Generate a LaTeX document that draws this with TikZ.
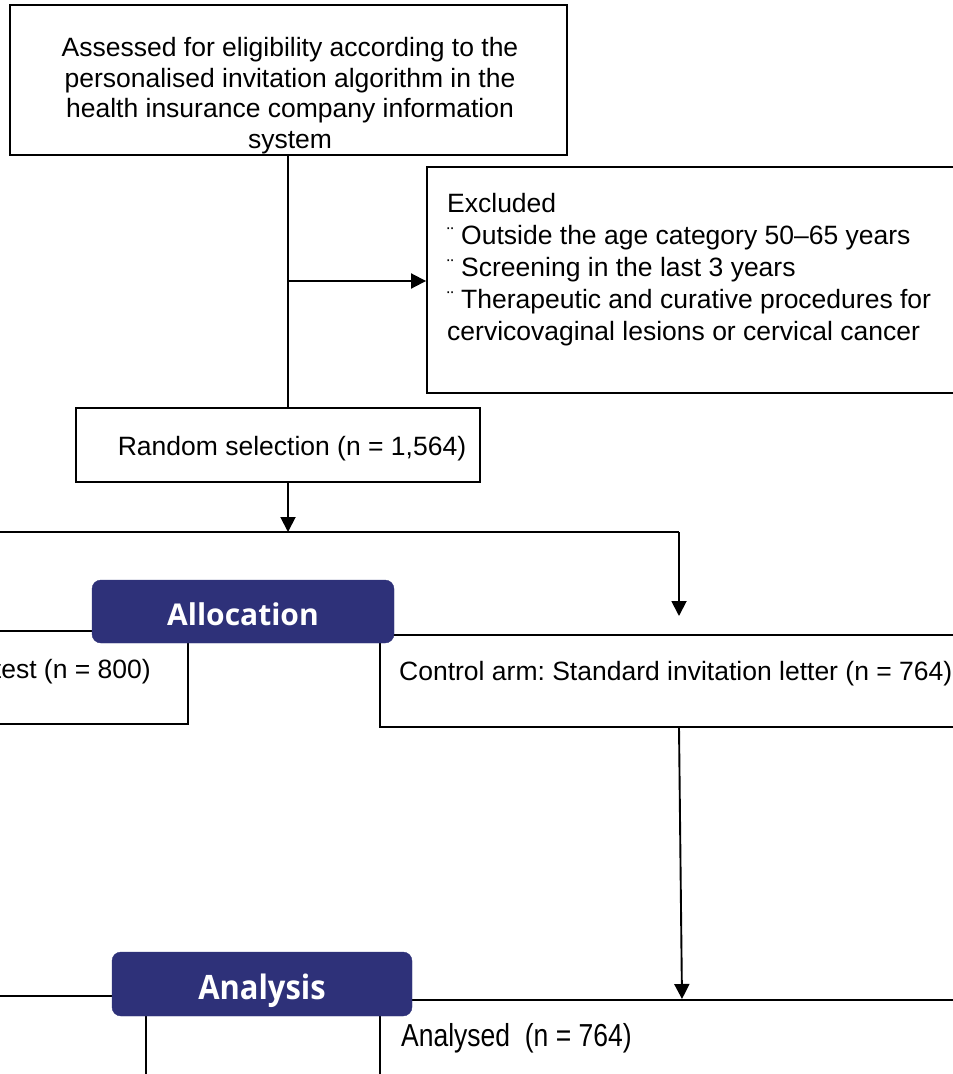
\documentclass[tikz,border=0pt]{standalone}
\usepackage{fontspec}
\setmainfont{Liberation Sans}
\newfontfamily\badgefont{Open Sans}
\usetikzlibrary{arrows.meta}
\definecolor{badgeblue}{RGB}{46,49,121}
\frenchspacing
\tikzset{
  box/.style={draw=black, line width=1.9pt, rectangle, inner sep=0pt},
  txt/.style={inner sep=0pt, font=\fontsize{26.5}{30.5}\selectfont},
  badge/.style={fill=badgeblue, draw=badgeblue, rounded corners=9pt, inner sep=0pt},
  badgetxt/.style={inner sep=0pt, text=white, font=\badgefont\bfseries\fontsize{30}{32}\selectfont},
  conn/.style={line width=1.9pt},
  arr/.style={conn, -{Triangle[length=15pt,width=15pt]}},
}
\newcommand{\bul}{{\fontsize{20}{20}\selectfont\raisebox{3pt}{¨}}\ }
\begin{document}
\begin{tikzpicture}[x=1pt,y=-1pt]
\useasboundingbox (0,0) rectangle (953,1074);
\clip (0,0) rectangle (953,1074);
\fill[white] (0,0) rectangle (953,1074);
% top box
\node[box, minimum width=557pt, minimum height=150pt] (assess) at (288.5,80) {};
\node[txt, align=center] (assesst) at (290,95.5) {Assessed for eligibility according to the\\personalised invitation algorithm in the\\health insurance company information\\system};
% excluded
\node[box, minimum width=540pt, minimum height=226pt] (excl) at (697,280) {};
\node[txt, align=left, anchor=west, font=\fontsize{26.5}{32}\selectfont] (exclt) at (447,270) {Excluded\\\bul Outside the age category 50--65 years\\\bul Screening in the last 3 years\\\bul Therapeutic and curative procedures for\\cervicovaginal lesions or cervical cancer};
% random selection
\node[box, minimum width=404pt, minimum height=74pt] (rand) at (278,445) {};
\node[txt] (randt) at (292,449) {Random selection (n = 1,564)};
% arms
\node[box, minimum width=210pt, minimum height=93pt] (interv) at (83,677.5) {};
\node[txt, anchor=east] (intervt) at (151,672) {test (n = 800)};
\node[box, minimum width=590pt, minimum height=92pt] (ctrl) at (675,681) {};
\node[txt, anchor=west] (ctrlt) at (399,674) {Control arm: Standard invitation letter (n = 764)};
\node[badge, minimum width=302pt, minimum height=63pt] (alloc) at (243,611.5) {};
\node[badgetxt] (alloct) at (243,614) {Allocation};
% analysis
\node[box, minimum width=166pt, minimum height=100pt] (anleft) at (63,1046) {};
\node[box, minimum width=590pt, minimum height=100pt] (anright) at (675,1050) {};
\node[txt, anchor=west] (anrt) at (401,1038) {\scalebox{1.0}[1.2]{Analysed\ \ (n = 764)}};
\node[badge, minimum width=300pt, minimum height=64pt] (analysis) at (262,984) {};
\node[badgetxt] (analysist) at (262,991) {\scalebox{1.03}[1.12]{Analysis}};
% connectors
\coordinate (c1) at (288,155);
\coordinate (c2) at (288,408);
\coordinate (c3) at (288,281);
\coordinate (c4) at (288,482);
\coordinate (split) at (288,532);
\coordinate (left) at (-10,532);
\coordinate (c5) at (679,532);
\coordinate (c6) at (679,616);
\coordinate (c7) at (679,727);
\coordinate (c8) at (682,999);
\draw[conn] (c1) -- (c2);
\draw[arr] (c3) -- (excl.west |- c3);
\draw[arr] (c4) -- (split);
\draw[conn] (left) -- (c5);
\draw[arr] (c5) -- (c6);
\draw[arr] (c7) -- (c8);
\end{tikzpicture}
\end{document}
